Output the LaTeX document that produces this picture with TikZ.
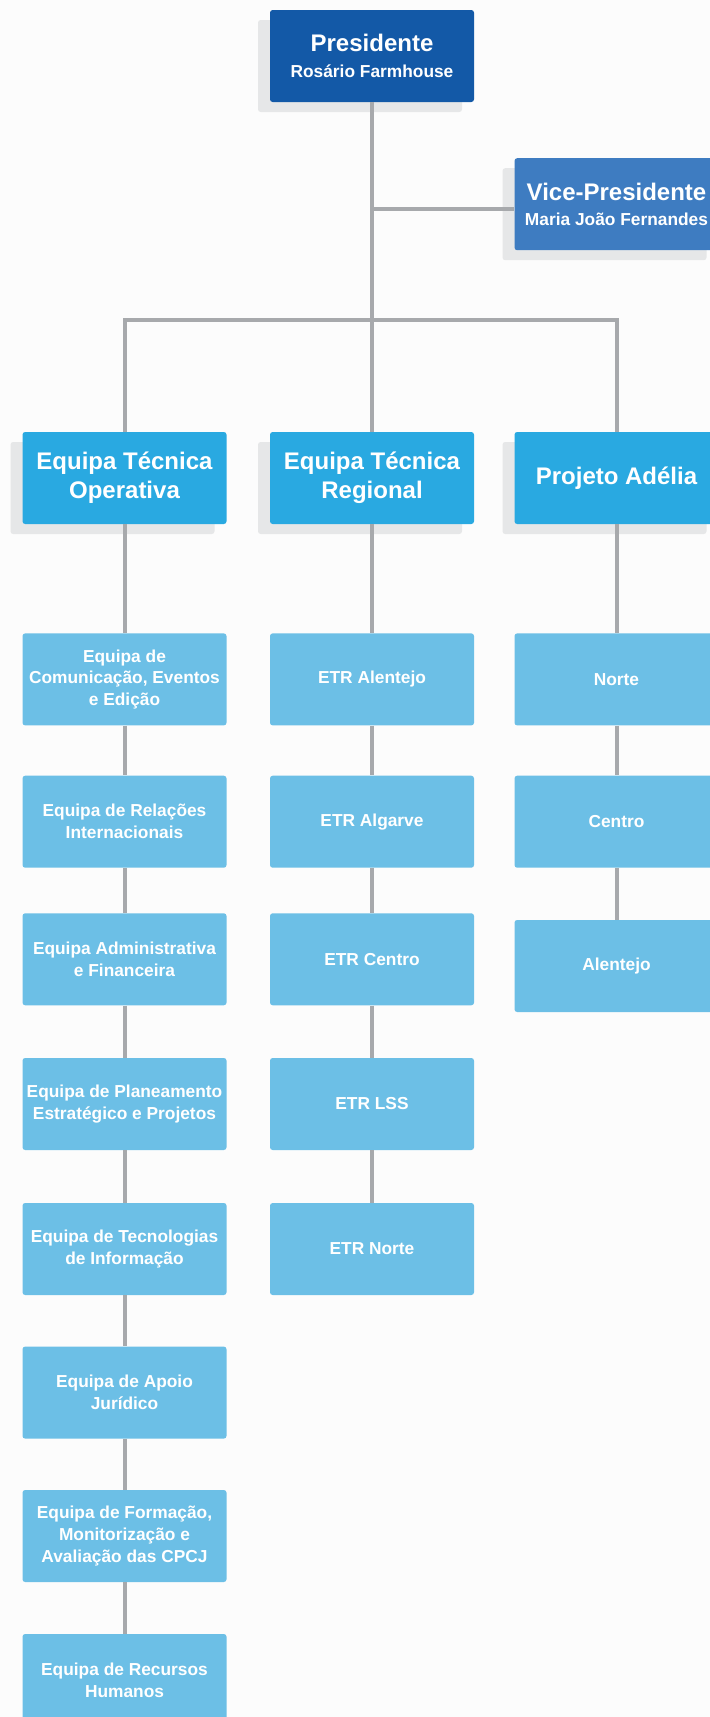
\documentclass[tikz,border=0pt]{standalone}
\usepackage{fontspec}
\setmainfont{Liberation Sans}
\usetikzlibrary{shadows}
\definecolor{bgcol}{HTML}{FCFCFC}
\definecolor{prescol}{HTML}{1359A7}
\definecolor{vpcol}{HTML}{3E7CC1}
\definecolor{lvltwo}{HTML}{29A9E1}
\definecolor{lvlthree}{HTML}{6CBFE6}
\definecolor{linecol}{HTML}{A7A9AC}
\definecolor{shadowcol}{HTML}{E6E7E8}
\begin{document}
\begin{tikzpicture}[x=0.75pt,y=-0.75pt,
  basebox/.style={rounded corners=2pt, minimum width=153pt, minimum height=69pt,
    inner sep=0pt, align=center, text=white},
  shadowed/.style={drop shadow={shadow xshift=-9pt, shadow yshift=-7.5pt, fill=shadowcol, opacity=1}},
  presbox/.style={basebox, shadowed, fill=prescol, font=\bfseries\fontsize{13}{19}\selectfont},
  vpbox/.style={basebox, shadowed, fill=vpcol, font=\bfseries\fontsize{13}{19}\selectfont},
  teambox/.style={basebox, shadowed, fill=lvltwo, font=\bfseries\fontsize{18}{21.75}\selectfont},
  unitbox/.style={basebox, fill=lvlthree, font=\bfseries\fontsize{13}{16.4}\selectfont},
  conn/.style={draw=linecol, line width=3pt}]
\useasboundingbox (0,0) rectangle (710,1717);
\clip (0,0) rectangle (710,1717);
\fill[bgcol] (0,0) rectangle (710,1717);

% top
\node[presbox] (pres) at (372,56) {{\fontsize{18}{20}\selectfont Presidente}\\Rosário Farmhouse};
\node[vpbox] (vp) at (616.5,204.2) {{\fontsize{18}{20}\selectfont Vice-Presidente}\\Maria João Fernandes};

% level 2
\node[teambox] (eto) at (124.5,478) {Equipa Técnica\\Operativa};
\node[teambox] (etr) at (372,478) {Equipa Técnica\\Regional};
\node[teambox] (pa) at (616.5,478) {Projeto Adélia};

% column 1
\node[unitbox] (a1) at (124.5,679.4) {Equipa de\\Comunicação, Eventos\\e Edição};
\node[unitbox] (a2) at (124.5,821.7) {Equipa de Relações\\Internacionais};
\node[unitbox] (a3) at (124.5,959.3) {Equipa Administrativa\\e Financeira};
\node[unitbox] (a4) at (124.5,1104) {Equipa de Planeamento\\Estratégico e Projetos};
\node[unitbox] (a5) at (124.5,1249) {Equipa de Tecnologias\\de Informação};
\node[unitbox] (a6) at (124.5,1392.6) {Equipa de Apoio\\Jurídico};
\node[unitbox] (a7) at (124.5,1536) {Equipa de Formação,\\Monitorização e\\Avaliação das CPCJ};
\node[unitbox] (a8) at (124.5,1680) {Equipa de Recursos\\Humanos};

% column 2
\node[unitbox] (b1) at (372,679.4) {ETR Alentejo};
\node[unitbox] (b2) at (372,821.7) {ETR Algarve};
\node[unitbox] (b3) at (372,959.3) {ETR Centro};
\node[unitbox] (b4) at (372,1104) {ETR LSS};
\node[unitbox] (b5) at (372,1249) {ETR Norte};

% column 3
\node[unitbox] (c1) at (616.5,679.4) {Norte};
\node[unitbox] (c2) at (616.5,821.7) {Centro};
\node[unitbox] (c3) at (616.5,966) {Alentejo};

% connectors
\coordinate (vpj) at (372,209.3);
\coordinate (bar) at (372,320);
\draw[conn] (pres) -- (etr);
\draw[conn] (vpj) -- (vpj -| vp.west);
\draw[conn] (eto.north) -- (eto.north |- bar) -- (pa.north |- bar) -- (pa.north);
\draw[conn] (eto) -- (a1);
\draw[conn] (a1) -- (a2);
\draw[conn] (a2) -- (a3);
\draw[conn] (a3) -- (a4);
\draw[conn] (a4) -- (a5);
\draw[conn] (a5) -- (a6);
\draw[conn] (a6) -- (a7);
\draw[conn] (a7) -- (a8);
\draw[conn] (etr) -- (b1);
\draw[conn] (b1) -- (b2);
\draw[conn] (b2) -- (b3);
\draw[conn] (b3) -- (b4);
\draw[conn] (b4) -- (b5);
\draw[conn] (pa) -- (c1);
\draw[conn] (c1) -- (c2);
\draw[conn] (c2) -- (c3);
\end{tikzpicture}
\end{document}
